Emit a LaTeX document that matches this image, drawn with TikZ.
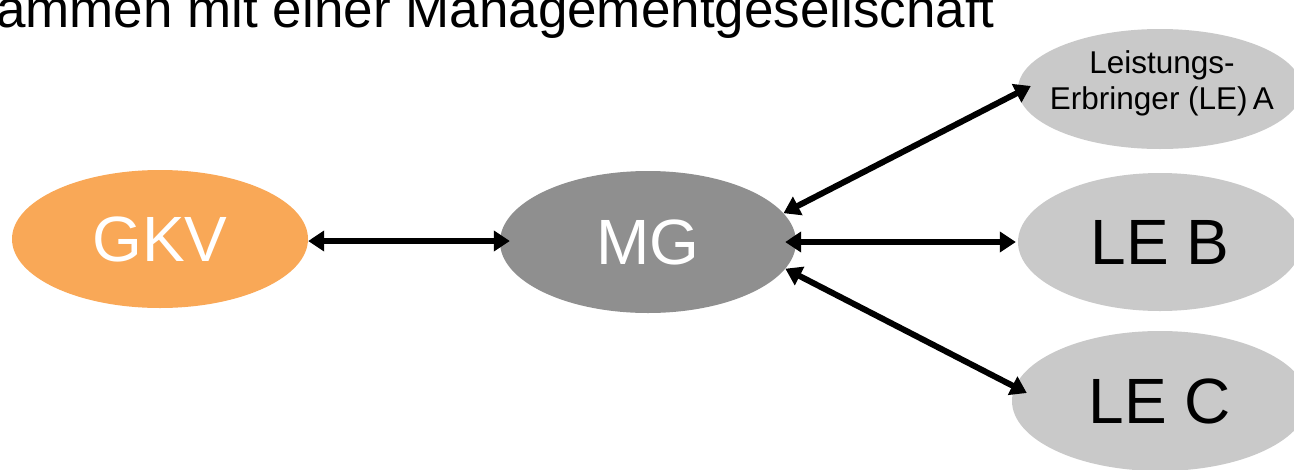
\documentclass[tikz,border=0pt]{standalone}
\usepackage{fontspec}
\setmainfont{Liberation Sans}
\usetikzlibrary{arrows.meta,shapes.geometric,calc}
\definecolor{gkvorange}{RGB}{249,168,87}
\definecolor{mggray}{RGB}{143,143,143}
\definecolor{legray}{RGB}{201,201,201}
\begin{document}
\begin{tikzpicture}[x=1pt,y=-1pt,
  ell/.style={ellipse,inner sep=0pt,draw=none},
  big/.style={font=\fontsize{64}{70}\selectfont},
  arr/.style={line width=6pt,{Triangle[length=16pt,width=20pt]}-{Triangle[length=16pt,width=20pt]}}]
\useasboundingbox (0,0) rectangle (1294,469);
\clip (0,0) rectangle (1294,469);
\node[anchor=base east,font=\fontsize{53}{58}\selectfont,inner sep=0pt] (title) at (995,27) {ammen mit einer Managementgesellschaft};
\node[ell,big,fill=gkvorange,text=white,minimum width=296pt,minimum height=138pt] (gkv) at (160,239) {GKV};
\node[ell,big,fill=mggray,text=white,minimum width=296pt,minimum height=142pt] (mg) at (648,242) {MG};
\node[ell,fill=legray,minimum width=284pt,minimum height=120pt] (lea) at (1160,89) {};
\node[align=center,font=\fontsize{31.5}{36}\selectfont,inner sep=0pt] (leatext) at (1162,83) {Leistungs-\\Erbringer (LE)\,A};
\node[ell,big,fill=legray,minimum width=284pt,minimum height=138pt] (leb) at (1160,242) {LE B};
\node[ell,big,fill=legray,minimum width=296pt,minimum height=140pt] (lec) at (1160,401) {LE C};
\draw[arr] ($(gkv.east)+(0,2)$) -- ($(mg.west)+(10,-1)$);
\draw[arr] ($(mg.east)+(-11,0)$) -- ($(leb.west)+(-2,0)$);
\draw[arr] (mg.12) -- ($(lea.west)+(13,-3)$);
\draw[arr] (mg.-11) -- ($(lec.west)+(15,-8)$);
\end{tikzpicture}
\end{document}
